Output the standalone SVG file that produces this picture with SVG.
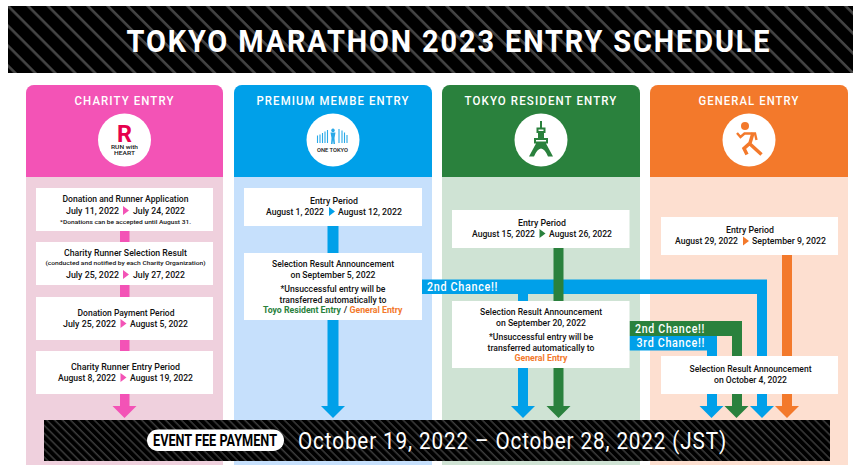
<svg xmlns="http://www.w3.org/2000/svg" width="853" height="465" viewBox="0 0 853 465">
<style>
text{font-family:"Roboto","Liberation Sans",sans-serif;text-anchor:middle;fill:#111}
.h{font-size:12.500px;font-weight:500;fill:#fff;letter-spacing:1.200px}
.t{font-size:9px;font-weight:500}
.s{font-size:6px;font-weight:500}
.c{font-size:12.500px;font-weight:500;fill:#fff;text-anchor:start;letter-spacing:.8px}
.box{fill:#fff}
.pink{fill:#f353b6}.blue{fill:#00a0e9}.green{fill:#2a813d}.orange{fill:#f3792b}
</style>
<defs>
<pattern id="st1" width="14.1" height="14.1" patternUnits="userSpaceOnUse" patternTransform="translate(10 6) rotate(45)"><rect width="14.1" height="14.1" fill="#000"/><rect width="14.1" height="2.6" fill="#444"/></pattern>
<pattern id="st2" width="5.6" height="5.6" patternUnits="userSpaceOnUse" patternTransform="rotate(45)"><rect width="5.6" height="5.6" fill="#000"/><rect width="5.6" height="1.5" fill="#3c3c3c"/></pattern>
<path id="tri" d="M0-4.500L6 0L0 4.500Z"/>
<path id="ah" d="M-12 0H12L0 12Z"/>
</defs>
<rect width="853" height="465" fill="#fff"/>

<g id="title-banner">
<rect x="8" y="6" width="845" height="67" fill="url(#st1)"/>
<text x="449" y="51.500" style="fill:#fff;font-size:31px;font-weight:700;letter-spacing:2px" textLength="645" lengthAdjust="spacingAndGlyphs">TOKYO MARATHON 2023 ENTRY SCHEDULE</text>
</g>

<g id="col-charity">
<path d="M26 465V93a8 8 0 0 1 8-8H215a8 8 0 0 1 8 8V465Z" fill="#efd0dd"/>
<path d="M26 177V93a8 8 0 0 1 8-8H215a8 8 0 0 1 8 8V177Z" class="pink"/>
<text class="h" x="124.500" y="105" textLength="100" lengthAdjust="spacingAndGlyphs">CHARITY ENTRY</text>
<circle cx="124.500" cy="140" r="26.500" fill="#fff"/>
<text x="124.500" y="142" font-size="23" font-weight="700" textLength="15" lengthAdjust="spacingAndGlyphs" style="fill:#e6004d">R</text>
<text x="124.500" y="149" font-size="5.200" font-weight="500" textLength="27" lengthAdjust="spacingAndGlyphs">RUN with</text>
<text x="124.500" y="155" font-size="5.200" font-weight="500" textLength="21" lengthAdjust="spacingAndGlyphs">HEART</text>
</g>
<g id="col-premium">
<path d="M234 465V93a8 8 0 0 1 8-8H424a8 8 0 0 1 8 8V465Z" fill="#c6e0fc"/>
<path d="M234 177V93a8 8 0 0 1 8-8H424a8 8 0 0 1 8 8V177Z" class="blue"/>
<text class="h" x="333" y="105" textLength="153" lengthAdjust="spacingAndGlyphs">PREMIUM MEMBE ENTRY</text>
<circle cx="333" cy="140" r="26.500" fill="#fff"/>
<path d="M317.500 143V135.500M320 143V134.500M322.500 143V133M325 143V131.500M327.500 143V130M339 143V129M342 143V130.500M344.500 143V132.500M347 143V135" fill="none" stroke="#29a9e8" stroke-width="1.100"/>
<path d="M333 128.500a1.800 1.800 0 1 1-.01 0ZM330.500 132.500H335.500L334.500 138L335 144H333.500L333 140L332.500 144H331L331.500 138Z" fill="#29a9e8"/>
<text x="332.500" y="151.500" font-size="5" font-weight="500" textLength="31" lengthAdjust="spacingAndGlyphs">ONE TOKYO</text>
</g>
<g id="col-resident">
<path d="M442 465V93a8 8 0 0 1 8-8H632a8 8 0 0 1 8 8V465Z" fill="#cfe3d4"/>
<path d="M442 177V93a8 8 0 0 1 8-8H632a8 8 0 0 1 8 8V177Z" class="green"/>
<text class="h" x="541" y="105" textLength="153" lengthAdjust="spacingAndGlyphs">TOKYO RESIDENT ENTRY</text>
<circle cx="541" cy="140" r="26.500" fill="#fff"/>
<path class="green" fill-rule="evenodd" d="M540 121H542V127.500H545.500V133H544V138H548V143.500H546L553 156.500H548Q545 149 541 148.500Q537 149 534 156.500H529L536 143.500H534V138H538V133H536.500V127.500H540ZM538.500 129.500V131H543.500V129.500ZM536 140V141.500H546V140Z"/>
</g>
<g id="col-general">
<path d="M650 465V93a8 8 0 0 1 8-8H840a8 8 0 0 1 8 8V465Z" fill="#fddfd0"/>
<path d="M650 177V93a8 8 0 0 1 8-8H840a8 8 0 0 1 8 8V177Z" class="orange"/>
<text class="h" x="749" y="105" textLength="101" lengthAdjust="spacingAndGlyphs">GENERAL ENTRY</text>
<circle cx="749" cy="140" r="26.500" fill="#fff"/>
<circle cx="745" cy="126" r="4" class="orange"/>
<path d="M737 133L740.500 137L744.500 133.500H755L756.500 140" fill="none" stroke="#f3792b" stroke-width="2.400"/>
<path d="M753 133L750 143L744 148.500L747 154.500M750 144L756 149.500L761.500 154.500" fill="none" stroke="#f3792b" stroke-width="3.500"/>
</g>

<g id="connectors">
<g class="pink"><rect x="120" y="231" width="9.500" height="11"/><rect x="120" y="285" width="9.500" height="12"/><rect x="120" y="340" width="9.500" height="11"/><rect x="120" y="394" width="9.500" height="12"/><use href="#ah" x="124.500" y="406"/></g>
<g class="blue"><rect x="327.500" y="226" width="11" height="27"/><rect x="327.500" y="320" width="11" height="86"/><use href="#ah" x="333" y="406"/>
<path d="M422 279.500H767V356H757V294H422Z"/><rect x="518" y="294" width="10" height="7"/><rect x="518" y="368" width="10" height="38"/><use href="#ah" x="523" y="406"/>
<rect x="757" y="394" width="10" height="12"/><use href="#ah" x="762" y="406"/>
<path d="M629.500 336H717V356H707V350.500H629.500Z"/><rect x="707" y="394" width="10" height="12"/><use href="#ah" x="711.500" y="406"/></g>
<g class="green"><rect x="553.500" y="248" width="10" height="53"/><rect x="553.500" y="368" width="10" height="38"/><use href="#ah" x="558.500" y="406"/>
<path d="M629.500 321H742V356H732V336H629.500Z"/><rect x="732" y="394" width="10" height="12"/><use href="#ah" x="736.500" y="406"/></g>
<g class="orange"><rect x="782" y="255" width="10" height="101"/><rect x="782" y="394" width="10" height="12"/><use href="#ah" x="787" y="406"/></g>
<text class="c" x="427" y="291" textLength="71" lengthAdjust="spacingAndGlyphs">2nd Chance!!</text>
<text class="c" x="635" y="332.500" textLength="70" lengthAdjust="spacingAndGlyphs">2nd Chance!!</text>
<text class="c" x="636.500" y="347" textLength="68.500" lengthAdjust="spacingAndGlyphs">3rd Chance!!</text>
</g>

<g id="c1-application"><rect class="box" x="36" y="188" width="177" height="43"/>
<text class="t" x="125.500" y="202" textLength="126" lengthAdjust="spacingAndGlyphs">Donation and Runner Application</text>
<text class="t" x="92.500" y="214" textLength="53" lengthAdjust="spacingAndGlyphs">July 11, 2022</text><use href="#tri" class="pink" x="123" y="210.500"/><text class="t" x="159" y="214" textLength="52" lengthAdjust="spacingAndGlyphs">July 24, 2022</text>
<text class="s" x="125.500" y="224" textLength="131" lengthAdjust="spacingAndGlyphs">*Donations can be accepted until August 31.</text></g>
<g id="c1-result"><rect class="box" x="36" y="242" width="177" height="43"/>
<text class="t" x="125.500" y="256" textLength="123" lengthAdjust="spacingAndGlyphs">Charity Runner Selection Result</text>
<text class="s" x="125.500" y="265" textLength="160" lengthAdjust="spacingAndGlyphs">(conducted and notified by each Charity Organization)</text>
<text class="t" x="92.500" y="278" textLength="53" lengthAdjust="spacingAndGlyphs">July 25, 2022</text><use href="#tri" class="pink" x="123" y="274.500"/><text class="t" x="159" y="278" textLength="52" lengthAdjust="spacingAndGlyphs">July 27, 2022</text></g>
<g id="c1-payment"><rect class="box" x="36" y="297" width="177" height="43"/>
<text class="t" x="126" y="316" textLength="97" lengthAdjust="spacingAndGlyphs">Donation Payment Period</text>
<text class="t" x="89.500" y="327" textLength="53" lengthAdjust="spacingAndGlyphs">July 25, 2022</text><use href="#tri" class="pink" x="120.500" y="323.500"/><text class="t" x="159" y="327" textLength="58" lengthAdjust="spacingAndGlyphs">August 5, 2022</text></g>
<g id="c1-entry"><rect class="box" x="36" y="351" width="177" height="43"/>
<text class="t" x="125.500" y="370" textLength="109" lengthAdjust="spacingAndGlyphs">Charity Runner Entry Period</text>
<text class="t" x="87" y="381" textLength="58" lengthAdjust="spacingAndGlyphs">August 8, 2022</text><use href="#tri" class="pink" x="120.500" y="377.500"/><text class="t" x="161.500" y="381" textLength="63" lengthAdjust="spacingAndGlyphs">August 19, 2022</text></g>

<g id="c2-entry"><rect class="box" x="244" y="188" width="178" height="38"/>
<text class="t" x="334" y="204" textLength="48" lengthAdjust="spacingAndGlyphs">Entry Period</text>
<text class="t" x="295" y="215" textLength="58" lengthAdjust="spacingAndGlyphs">August 1, 2022</text><use href="#tri" class="blue" x="329" y="211.500"/><text class="t" x="370" y="215" textLength="64" lengthAdjust="spacingAndGlyphs">August 12, 2022</text></g>
<g id="c2-result"><rect class="box" x="244" y="253" width="178" height="67"/>
<text class="t" x="333" y="267" textLength="122" lengthAdjust="spacingAndGlyphs">Selection Result Announcement</text>
<text class="t" x="333" y="277.500" textLength="85" lengthAdjust="spacingAndGlyphs">on September 5, 2022</text>
<text class="t" x="333" y="292" textLength="105" lengthAdjust="spacingAndGlyphs">*Unsuccessful entry will be</text>
<text class="t" x="333" y="302.500" textLength="107" lengthAdjust="spacingAndGlyphs">transferred automatically to</text>
<text class="t" x="302" y="313" textLength="78" lengthAdjust="spacingAndGlyphs" style="fill:#2a813d;font-weight:700">Toyo Resident Entry</text><text class="t" x="345.500" y="313">/</text><text class="t" x="376" y="313" textLength="53" lengthAdjust="spacingAndGlyphs" style="fill:#f3792b;font-weight:700">General Entry</text></g>

<g id="c3-entry"><rect class="box" x="452" y="210" width="177.500" height="38"/>
<text class="t" x="542" y="226" textLength="48" lengthAdjust="spacingAndGlyphs">Entry Period</text>
<text class="t" x="503.500" y="237" textLength="63" lengthAdjust="spacingAndGlyphs">August 15, 2022</text><use href="#tri" class="green" x="539.500" y="233.500"/><text class="t" x="580.500" y="237" textLength="63" lengthAdjust="spacingAndGlyphs">August 26, 2022</text></g>
<g id="c3-result"><rect class="box" x="452" y="301" width="177.500" height="67"/>
<text class="t" x="541" y="315" textLength="122" lengthAdjust="spacingAndGlyphs">Selection Result Announcement</text>
<text class="t" x="541" y="325.500" textLength="90" lengthAdjust="spacingAndGlyphs">on September 20, 2022</text>
<text class="t" x="541" y="340" textLength="104" lengthAdjust="spacingAndGlyphs">*Unsuccessful entry will be</text>
<text class="t" x="541" y="350.500" textLength="107" lengthAdjust="spacingAndGlyphs">transferred automatically to</text>
<text class="t" x="541" y="361" textLength="53" lengthAdjust="spacingAndGlyphs" style="fill:#f3792b;font-weight:700">General Entry</text></g>

<g id="c4-entry"><rect class="box" x="661" y="217" width="177" height="38"/>
<text class="t" x="750" y="233" textLength="48" lengthAdjust="spacingAndGlyphs">Entry Period</text>
<text class="t" x="706.500" y="244" textLength="63" lengthAdjust="spacingAndGlyphs">August 29, 2022</text><use href="#tri" class="orange" x="743" y="241"/><text class="t" x="789" y="244" textLength="74" lengthAdjust="spacingAndGlyphs">September 9, 2022</text></g>
<g id="c4-result"><rect class="box" x="661" y="356" width="177" height="38"/>
<text class="t" x="750.500" y="372" textLength="122" lengthAdjust="spacingAndGlyphs">Selection Result Announcement</text>
<text class="t" x="750.500" y="383" textLength="73" lengthAdjust="spacingAndGlyphs">on October 4, 2022</text></g>

<g id="fee-banner">
<rect x="44" y="420" width="786" height="41" fill="url(#st2)"/>
<rect x="147" y="429.500" width="137" height="21.500" rx="10.750" fill="#fff"/>
<text x="215" y="446" textLength="124" lengthAdjust="spacingAndGlyphs" style="fill:#000;font-size:16px;font-weight:700">EVENT FEE PAYMENT</text>
<text x="512.500" y="449" textLength="429" lengthAdjust="spacingAndGlyphs" style="fill:#fff;font-size:24px;font-weight:400;letter-spacing:1px">October 19, 2022 – October 28, 2022 (JST)</text>
</g>
</svg>
